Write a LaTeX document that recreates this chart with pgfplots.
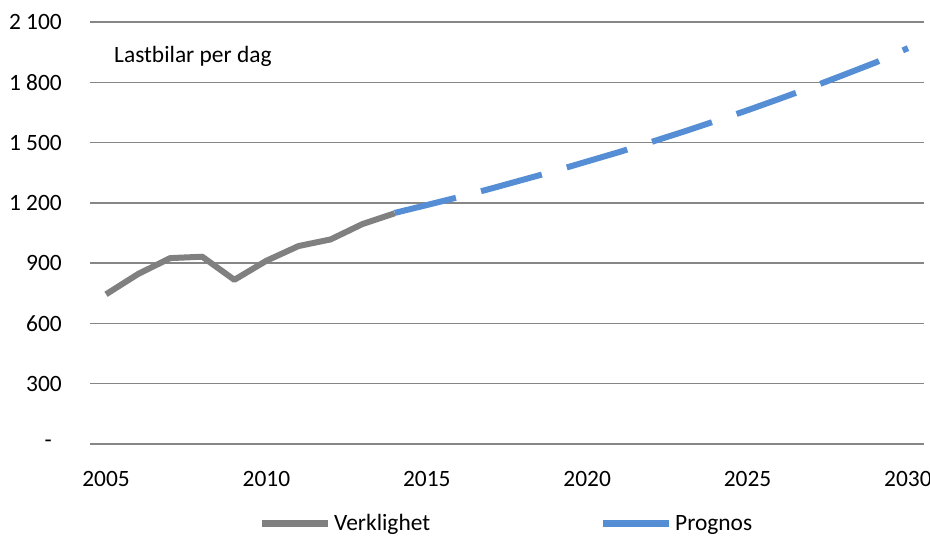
\documentclass[border=0pt]{standalone}
\usepackage{pgfplots}
\pgfplotsset{compat=1.18}
\usepackage{fontspec}
\setmainfont{Carlito}

\definecolor{actual}{RGB}{128,128,128}
\definecolor{forecast}{RGB}{85,142,213}
\definecolor{gridc}{RGB}{134,134,134}

\newcommand{\chartfont}{\fontsize{23.5}{27}\selectfont}

\begin{document}
\begin{tikzpicture}
\begin{axis}[
  at={(0,0)}, anchor=south west,
  scale only axis, width=834bp, height=422bp,
  xmin=2004.5, xmax=2030.5, ymin=0, ymax=2100,
  xtick={2005,2010,2015,2020,2025,2030},
  xticklabels={2005,2010,2015,2020,2025,2030},
  ytick={0,300,600,900,1200,1500,1800,2100},
  yticklabels={-\hspace*{10bp},300,600,900,1 200,1 500,1 800,2 100},
  ymajorgrids,
  grid style={gridc, line width=1.3bp},
  axis line style={draw=none},
  major tick length=0pt,
  tick label style={font=\chartfont},
  yticklabel style={anchor=east, inner sep=0pt, xshift=-28bp},
  xticklabel style={anchor=north, inner sep=0pt, yshift=-27bp},
  clip=false,
  legend columns=2,
  legend cell align=left,
  legend style={draw=none, fill=none, inner sep=0pt,
    at={(axis description cs:0.2014,-0.188)}, anchor=west,
    font=\chartfont,
    nodes={inner sep=3bp},
    /tikz/every even column/.append style={column sep=166bp}},
  legend image code/.code={\draw[#1, solid, line width=7bp] (0bp,0bp) -- (66bp,0bp);},
]
% observed daily truck counts
\addplot[actual, line width=6bp, line join=round] coordinates {
  (2005,745) (2006,846) (2007,925) (2008,932) (2009,817)
  (2010,912) (2011,985) (2012,1018) (2013,1095) (2014,1148)
};
\addlegendentry{Verklighet}
% forecast
\addplot[forecast, line width=6bp, dash pattern=on 63bp off 26bp] coordinates {
  (2014,1150) (2015,1189) (2016,1229) (2017,1271) (2018,1315)
  (2019,1359) (2020,1406) (2021,1453) (2022,1503) (2023,1554)
  (2024,1607) (2025,1661) (2026,1718) (2027,1776) (2028,1837)
  (2029,1899) (2030,1970)
};
\addlegendentry{Prognos}
\node[anchor=base west, inner sep=0pt, font=\chartfont]
  at (axis description cs:0.0288,0.905) {Lastbilar per dag};
\end{axis}
\pgfresetboundingbox
\path[use as bounding box] (-90bp,-93bp) rectangle (840bp,444bp);
\end{tikzpicture}
\end{document}
